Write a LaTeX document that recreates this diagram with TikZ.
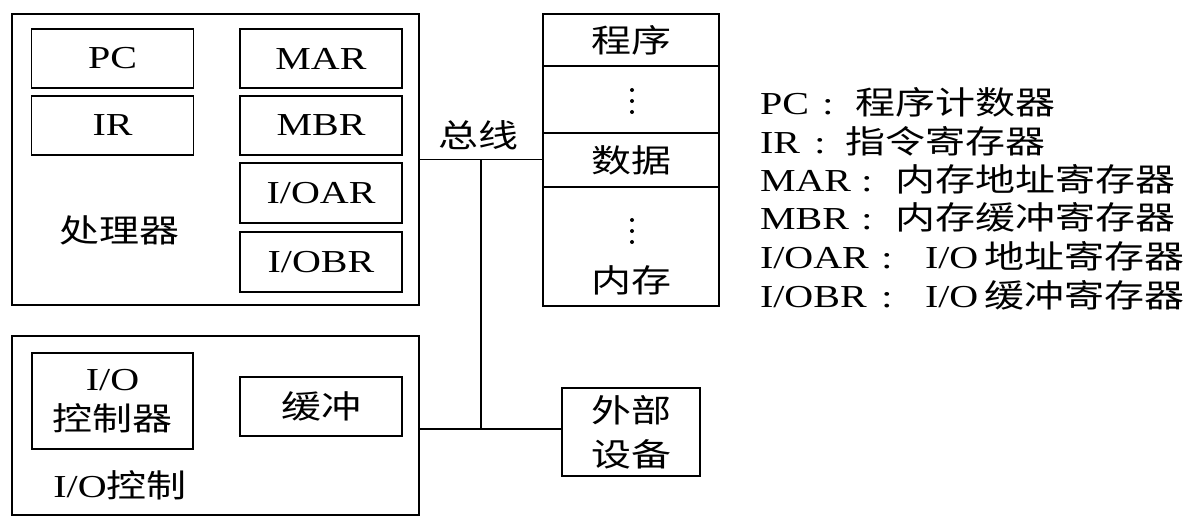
\documentclass[tikz,border=0pt]{standalone}
\usepackage{fontspec}
\setmainfont[FakeStretch=1.25]{Liberation Serif}
\newfontfamily\cjk[FakeStretch=1.25]{Noto Sans CJK SC}
\begin{document}
\begin{tikzpicture}[x=1pt,y=-1pt,
  every node/.style={font=\fontsize{32}{42}\selectfont, inner sep=0pt, outer sep=0pt},
  box/.style={draw, line width=1.8pt, align=center},
  reg/.style={box, minimum width=162pt, minimum height=59pt},
  memrow/.style={box, minimum width=176pt},
  bus/.style={line width=1.3pt},
  dot/.style={fill=black}]
\useasboundingbox (0,0) rectangle (1188,521);
% processor
\node[box, minimum width=407pt, minimum height=291pt] (proc) at (215.5,159.5) {};
\node[reg] (pc) at (112.5,58.5) {PC};
\node[reg] (ir) at (112.5,125.5) {IR};
\node[reg] (mar) at (321,58.5) {MAR};
\node[reg] (mbr) at (321,125.5) {MBR};
\node[reg, minimum height=60pt] (ioar) at (321,193) {I/OAR};
\node[reg, minimum height=60pt] (iobr) at (321,262) {I/OBR};
\node (proclbl) at (119,230) {\cjk 处理器};
\node (buslbl) at (478,135) {\cjk 总线};
% memory
\node[memrow, minimum height=52pt] (m1) at (631,40) {\cjk 程序};
\node[memrow, minimum height=67pt] (m2) at (631,99.5) {};
\node[memrow, minimum height=54pt] (m3) at (631,160) {\cjk 数据};
\node[memrow, minimum height=119pt] (m4) at (631,246.5) {};
\node (memlbl) at (631,280) {\cjk 内存};
\foreach \y in {90,101,112,220,231,242} \fill[dot] (632,\y) circle (2pt);
% I/O
\node[box, minimum width=407pt, minimum height=179pt] (io) at (215.5,425.5) {};
\node[box, minimum width=161pt, minimum height=96pt, font=\fontsize{32}{40}\selectfont] (ioc) at (112.5,401) {I/O\\{\cjk 控制器}};
\node[reg] (buf) at (321,406.5) {\cjk 缓冲};
\node (iolbl) at (120,485) {I/O{\cjk 控制}};
% external device
\node[box, minimum width=138pt, minimum height=88pt, font=\fontsize{32}{44}\selectfont] (ext) at (631,432) {{\cjk 外部}\\{\cjk 设备}};
% bus
\coordinate (bt) at (481,159.5);
\coordinate (bb) at (481,429);
\draw[bus] (proc.east) -- (proc.east -| m3.west);
\draw[bus] (bt) -- (bb);
\draw[bus] (bb -| io.east) -- (bb -| ext.west);
% legend
\node[anchor=base west] (lpc) at (760,115) {PC};
\node[anchor=base] (cpc) at (828,115) {:};
\node[anchor=base west] (tpc) at (855,115) {\cjk 程序计数器};
\node[anchor=base west] (lir) at (760,153.5) {IR};
\node[anchor=base] (cir) at (820,153.5) {:};
\node[anchor=base west] (tir) at (845,153.5) {\cjk 指令寄存器};
\node[anchor=base west] (lmar) at (760,192) {MAR};
\node[anchor=base] (cmar) at (867,192) {:};
\node[anchor=base west] (tmar) at (895,192) {\cjk 内存地址寄存器};
\node[anchor=base west] (lmbr) at (760,230) {MBR};
\node[anchor=base] (cmbr) at (867,230) {:};
\node[anchor=base west] (tmbr) at (895,230) {\cjk 内存缓冲寄存器};
\node[anchor=base west] (lioar) at (760,268.5) {I/OAR};
\node[anchor=base] (cioar) at (887,268.5) {:};
\node[anchor=base west] (tioar) at (925,268.5) {I/O\hspace{6pt}{\cjk 地址寄存器}};
\node[anchor=base west] (liobr) at (760,307) {I/OBR};
\node[anchor=base] (ciobr) at (887,307) {:};
\node[anchor=base west] (tiobr) at (925,307) {I/O\hspace{6pt}{\cjk 缓冲寄存器}};
\end{tikzpicture}
\end{document}
